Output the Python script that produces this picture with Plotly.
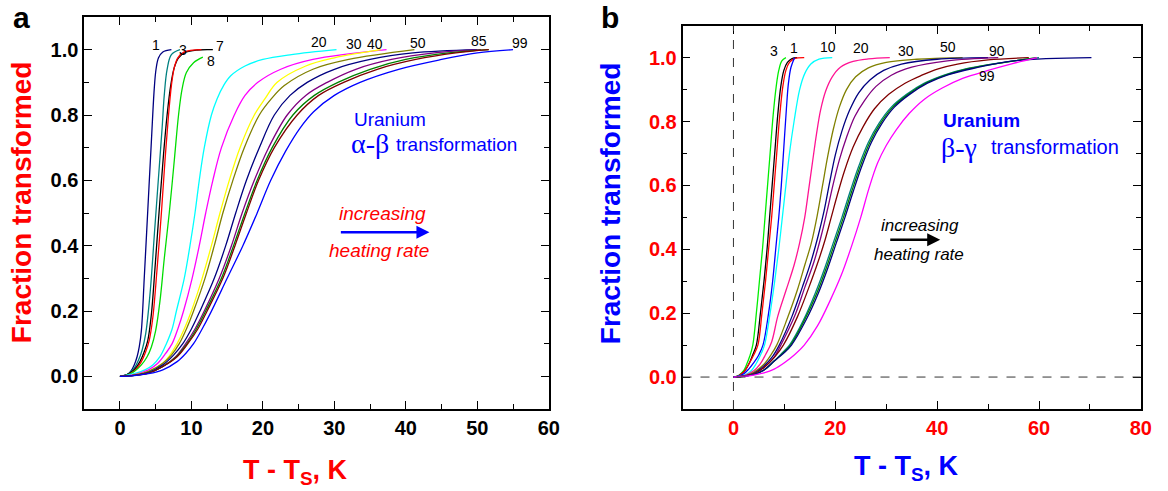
import plotly.graph_objects as go

# ---------------- Panel a : alpha-beta ----------------
a_colors = ["#000080", "#008080", "#000000", "#FF0000", "#00DD00", "#00FFFF", "#FF00FF",
            "#FFFF00", "#808000", "#000080", "#800080", "#008000", "#800000", "#0000FF"]
a_T = [
    [0, 1, 1.5, 2, 2.4, 2.7, 3.0, 3.4, 3.9, 4.4, 4.8, 5.05, 5.4, 6.0, 7.2],
    [0, 1, 2, 2.6, 3.1, 3.6, 4.2, 4.9, 5.4, 5.9, 6.2, 6.6, 7.2, 8.4],
    [0, 1, 2, 2.8, 3.4, 3.9, 4.4, 4.9, 5.5, 6.1, 6.6, 7.1, 7.6, 8.2, 9.2, 10.8, 13.0],
    [0, 1, 2, 3, 3.6, 4.1, 4.6, 5.2, 5.8, 6.3, 6.8, 7.2, 7.6, 8.1, 9.0, 11.4],
    [0, 1, 2, 3, 3.8, 4.4, 5.0, 5.6, 6.2, 6.9, 7.6, 8.2, 8.7, 9.3, 10.3, 11.6],
    [0, 2, 3.5, 4.6, 5.6, 6.5, 7.3, 7.9, 9.0, 9.8, 10.5, 11.1, 11.8, 12.8, 13.6, 14.5, 15.5, 17.5, 20, 24, 30.3],
    [0, 2, 4, 5.3, 6.4, 7.3, 8.1, 8.9, 10.1, 11.1, 12.0, 13.0, 14.2, 16.0, 17.5, 19.3, 22.5, 27, 37.3],
    [0, 2, 4, 6, 7.0, 8.0, 9.0, 10.0, 11.5, 12.8, 14.0, 15.3, 16.8, 18.8, 20.3, 22.0, 26, 30, 36.5],
    [0, 2, 4, 6, 7.2, 8.3, 9.3, 10.3, 11.9, 13.2, 14.4, 15.8, 17.4, 19.5, 21.2, 23.0, 27, 32, 41.2],
    [0, 2, 4, 6, 7.5, 8.8, 10.0, 11.2, 13.2, 14.8, 16.2, 17.7, 19.5, 21.6, 23.8, 26.2, 30, 35, 41, 50],
    [0, 2, 4, 6, 7.8, 9.2, 10.5, 11.8, 13.9, 15.6, 17.1, 18.8, 20.8, 23.4, 26, 29.0, 33, 38, 44, 50.5],
    [0, 2, 4, 6, 7.9, 9.4, 10.7, 12.0, 14.2, 15.9, 17.5, 19.2, 21.3, 24.2, 27.2, 30.5, 35, 40, 46, 51.6],
    [0, 2, 4, 6, 8.0, 9.5, 10.9, 12.2, 14.4, 16.1, 17.7, 19.4, 21.6, 24.8, 27.8, 31.3, 36, 41.4, 47, 51.6],
    [0, 2, 4, 6, 8, 9.2, 10.3, 11.5, 12.7, 15.0, 17.2, 19.2, 21.1, 23.2, 25.2, 27.1, 30, 33.6, 39, 45, 50, 55],
]
a_F = [
    [0, 0.005, 0.015, 0.035, 0.06, 0.09, 0.14, 0.30, 0.51, 0.72, 0.88, 0.94, 0.975, 0.993, 1.0],
    [0, 0.005, 0.025, 0.05, 0.08, 0.13, 0.25, 0.46, 0.61, 0.76, 0.86, 0.94, 0.985, 1.0],
    [0, 0.005, 0.02, 0.045, 0.075, 0.11, 0.19, 0.33, 0.51, 0.68, 0.80, 0.89, 0.945, 0.975, 0.992, 0.999, 1.0],
    [0, 0.004, 0.016, 0.045, 0.075, 0.11, 0.18, 0.33, 0.50, 0.66, 0.80, 0.89, 0.945, 0.975, 0.993, 1.0],
    [0, 0.004, 0.015, 0.035, 0.06, 0.09, 0.14, 0.23, 0.36, 0.50, 0.66, 0.80, 0.88, 0.93, 0.96, 0.977],
    [0, 0.008, 0.02, 0.035, 0.06, 0.10, 0.145, 0.20, 0.30, 0.40, 0.50, 0.60, 0.70, 0.80, 0.85, 0.89, 0.92, 0.95, 0.97, 0.985, 1.0],
    [0, 0.005, 0.02, 0.04, 0.07, 0.10, 0.145, 0.20, 0.30, 0.40, 0.50, 0.60, 0.70, 0.80, 0.86, 0.90, 0.94, 0.97, 1.0],
    [0, 0.004, 0.015, 0.04, 0.065, 0.10, 0.145, 0.20, 0.30, 0.40, 0.50, 0.60, 0.70, 0.80, 0.85, 0.90, 0.95, 0.975, 1.0],
    [0, 0.004, 0.015, 0.04, 0.065, 0.10, 0.145, 0.20, 0.30, 0.40, 0.50, 0.60, 0.70, 0.80, 0.85, 0.89, 0.94, 0.97, 1.0],
    [0, 0.003, 0.012, 0.035, 0.065, 0.10, 0.145, 0.20, 0.30, 0.40, 0.50, 0.60, 0.70, 0.80, 0.86, 0.90, 0.94, 0.97, 0.99, 1.0],
    [0, 0.003, 0.01, 0.03, 0.06, 0.10, 0.145, 0.20, 0.30, 0.40, 0.50, 0.60, 0.70, 0.80, 0.86, 0.90, 0.94, 0.97, 0.99, 1.0],
    [0, 0.003, 0.01, 0.03, 0.06, 0.10, 0.145, 0.20, 0.30, 0.40, 0.50, 0.60, 0.70, 0.80, 0.86, 0.90, 0.94, 0.97, 0.99, 1.0],
    [0, 0.003, 0.01, 0.03, 0.06, 0.10, 0.145, 0.20, 0.30, 0.40, 0.50, 0.60, 0.70, 0.80, 0.86, 0.90, 0.94, 0.97, 0.99, 1.0],
    [0, 0.002, 0.008, 0.02, 0.045, 0.07, 0.10, 0.145, 0.195, 0.30, 0.40, 0.50, 0.60, 0.69, 0.76, 0.81, 0.86, 0.90, 0.94, 0.97, 0.99, 1.0],
]
a_labels = ["1", "3", "7", "8", "20", "30", "40", "50", "85", "99"]
a_label_x = [5.0, 8.8, 14.0, 12.7, 27.9, 32.7, 35.7, 41.7, 50.2, 56.0]
a_label_y = [1.015, 1.0, 1.01, 0.964, 1.023, 1.017, 1.017, 1.02, 1.028, 1.02]

# ---------------- Panel b : beta-gamma ----------------
b_colors = ["#00EE00", "#000000", "#FF0000", "#0000FF", "#00FFFF", "#FF1493", "#808000",
            "#000080", "#800080", "#800000", "#008080", "#008000", "#000080", "#FF00FF"]
b_T = [
    [0, 1, 2, 2.6, 3.2, 3.8, 4.5, 5.1, 5.7, 6.2, 6.7, 7.2, 7.8, 8.4, 8.9, 9.5, 10.3],
    [0, 1, 2, 3, 3.8, 4.5, 5.3, 6.0, 6.6, 7.1, 7.6, 8.1, 8.7, 9.3, 9.9, 10.6, 11.5, 12.5],
    [0, 1, 2, 3, 4.0, 4.8, 5.6, 6.3, 6.9, 7.5, 8.0, 8.5, 9.1, 9.7, 10.3, 11.0, 12.0, 13.9],
    [0, 1, 2, 3, 4, 5, 5.8, 6.9, 7.7, 8.3, 8.9, 9.4, 9.9, 10.4, 10.8, 11.3, 12.0],
    [0, 2, 3.5, 4.4, 5.2, 6.1, 7.2, 8.1, 8.9, 9.6, 10.3, 11.0, 11.9, 13.0, 14.0, 15.2, 16.8, 19.4],
    [0, 2, 4, 5.2, 6.3, 7.5, 8.7, 10.3, 11.9, 13.0, 14.0, 14.8, 15.5, 16.3, 17.1, 18.1, 19.4, 21, 23.5, 26.5, 30.7],
    [0, 2, 4, 6, 7.4, 8.5, 10.5, 12.5, 14.0, 15.3, 16.5, 17.5, 18.5, 19.6, 20.8, 22.2, 24, 26.5, 30, 36, 45],
    [0, 2, 4, 6, 7.7, 9, 11.5, 13.5, 15.2, 16.6, 17.8, 18.9, 20.0, 21.3, 22.8, 24.6, 26.8, 29.5, 33, 40, 50],
    [0, 2, 4, 6, 7.9, 9.3, 12.0, 14.0, 15.8, 17.2, 18.4, 19.6, 20.8, 22.2, 23.8, 25.7, 28, 31, 35, 42, 52],
    [0, 2, 4, 6, 8.2, 9.8, 12.6, 14.8, 16.6, 18.0, 19.2, 20.4, 21.8, 23.5, 25.5, 27.7, 30.5, 33.7, 37, 40.2, 44, 50, 58],
    [0, 2, 4, 6, 8, 9.5, 11.0, 13.8, 16.0, 17.9, 19.6, 21.3, 22.9, 24.6, 26.5, 28.6, 31, 34, 37.5, 41.5, 46, 52, 60],
    [0, 2, 4, 6, 8, 9.7, 11.2, 14.0, 16.3, 18.2, 19.9, 21.6, 23.2, 24.9, 26.8, 28.9, 31.3, 34.3, 37.8, 41.8, 46.3, 52.3, 59.6],
    [0, 2, 4, 6, 8, 9.9, 11.4, 14.3, 16.6, 18.5, 20.2, 21.9, 23.5, 25.2, 27.1, 29.2, 31.6, 34.6, 38.1, 42.1, 47, 55, 70.3],
    [0, 2, 4, 6, 8, 10, 12, 13.9, 16.5, 19, 21.2, 23.2, 25.0, 26.6, 28.3, 30, 32, 34.5, 37.5, 41, 45, 50, 55, 59.6],
]
b_F = [
    [0, 0.005, 0.02, 0.04, 0.065, 0.10, 0.20, 0.30, 0.40, 0.50, 0.60, 0.70, 0.82, 0.91, 0.96, 0.99, 1.0],
    [0, 0.004, 0.015, 0.04, 0.07, 0.10, 0.20, 0.30, 0.40, 0.50, 0.60, 0.70, 0.82, 0.91, 0.96, 0.985, 0.997, 1.0],
    [0, 0.004, 0.015, 0.04, 0.07, 0.10, 0.20, 0.30, 0.40, 0.50, 0.60, 0.70, 0.82, 0.91, 0.96, 0.985, 0.997, 1.0],
    [0, 0.003, 0.01, 0.025, 0.045, 0.07, 0.10, 0.20, 0.30, 0.40, 0.50, 0.60, 0.72, 0.84, 0.92, 0.97, 1.0],
    [0, 0.005, 0.02, 0.04, 0.065, 0.10, 0.20, 0.30, 0.40, 0.50, 0.60, 0.70, 0.80, 0.90, 0.95, 0.98, 0.995, 1.0],
    [0, 0.004, 0.02, 0.04, 0.07, 0.11, 0.19, 0.27, 0.35, 0.42, 0.50, 0.59, 0.67, 0.76, 0.835, 0.895, 0.94, 0.97, 0.988, 0.996, 1.0],
    [0, 0.003, 0.015, 0.04, 0.07, 0.10, 0.18, 0.27, 0.35, 0.42, 0.51, 0.60, 0.69, 0.775, 0.845, 0.90, 0.94, 0.968, 0.985, 0.995, 1.0],
    [0, 0.003, 0.012, 0.035, 0.065, 0.10, 0.19, 0.28, 0.36, 0.44, 0.52, 0.61, 0.695, 0.77, 0.835, 0.89, 0.93, 0.96, 0.98, 0.995, 1.0],
    [0, 0.003, 0.01, 0.03, 0.06, 0.10, 0.19, 0.28, 0.36, 0.44, 0.52, 0.605, 0.68, 0.75, 0.815, 0.865, 0.91, 0.945, 0.97, 0.99, 1.0],
    [0, 0.003, 0.01, 0.03, 0.065, 0.10, 0.19, 0.28, 0.36, 0.43, 0.50, 0.57, 0.645, 0.72, 0.785, 0.84, 0.885, 0.92, 0.945, 0.965, 0.98, 0.993, 1.0],
    [0, 0.002, 0.008, 0.022, 0.05, 0.075, 0.10, 0.18, 0.26, 0.34, 0.42, 0.50, 0.58, 0.66, 0.735, 0.795, 0.845, 0.885, 0.92, 0.946, 0.966, 0.983, 1.0],
    [0, 0.002, 0.008, 0.022, 0.05, 0.075, 0.10, 0.18, 0.26, 0.34, 0.42, 0.50, 0.58, 0.66, 0.735, 0.795, 0.845, 0.885, 0.92, 0.946, 0.966, 0.983, 1.0],
    [0, 0.002, 0.008, 0.022, 0.05, 0.075, 0.10, 0.18, 0.26, 0.34, 0.42, 0.50, 0.58, 0.66, 0.735, 0.795, 0.845, 0.885, 0.92, 0.946, 0.966, 0.99, 1.0],
    [0, 0.002, 0.006, 0.013, 0.025, 0.045, 0.07, 0.10, 0.16, 0.24, 0.32, 0.41, 0.50, 0.59, 0.67, 0.725, 0.775, 0.825, 0.87, 0.905, 0.935, 0.96, 0.982, 1.0],
]
b_labels = ["3", "1", "10", "20", "30", "50", "90", "99"]
b_label_x = [7.9, 11.8, 18.5, 25.1, 33.9, 42.1, 51.8, 49.7]
b_label_y = [1.022, 1.029, 1.033, 1.029, 1.022, 1.033, 1.022, 0.943]

W, H = 1168, 491
FONT = "Arial, Liberation Sans, Helvetica, sans-serif"
SERIF = "Times New Roman, Liberation Serif, DejaVu Serif, serif"

fig = go.Figure()
for T, F, c in zip(a_T, a_F, a_colors):
    fig.add_trace(go.Scatter(x=T, y=F, mode="lines", xaxis="x", yaxis="y",
                             line=dict(color=c, width=1.3, shape="spline", smoothing=1.0),
                             showlegend=False, hoverinfo="skip"))
for T, F, c in zip(b_T, b_F, b_colors):
    fig.add_trace(go.Scatter(x=T, y=F, mode="lines", xaxis="x2", yaxis="y2",
                             line=dict(color=c, width=1.3, shape="spline", smoothing=1.0),
                             showlegend=False, hoverinfo="skip"))

def px_x(p):
    return p / W

def px_y(p):
    return (H - p) / H

def axis_common(color):
    return dict(showline=True, linecolor="black", linewidth=1.6, mirror="allticks",
                ticks="inside", ticklen=8, tickwidth=1.3, tickcolor="black",
                showgrid=False, zeroline=False,
                tickfont=dict(family=FONT, size=20, color=color, weight="bold"),
                minor=dict(ticks="inside", ticklen=5, tickwidth=1.1, tickcolor="black", showgrid=False))

xa = axis_common("black"); xa.update(domain=[px_x(85), px_x(554)], range=[-5, 60], tick0=0, dtick=10, anchor="y")
xa["minor"].update(dtick=5, tick0=0)
ya = axis_common("black"); ya.update(domain=[px_y(409), px_y(17)], range=[-0.1, 1.1], tick0=0, dtick=0.2,
                                      tickformat=".1f", anchor="x")
ya["minor"].update(dtick=0.1, tick0=0)
xb = axis_common("red"); xb.update(domain=[px_x(689), px_x(1151.7)], range=[-10, 80], tick0=0, dtick=20, anchor="y2")
xb["minor"].update(dtick=10, tick0=0)
yb = axis_common("red"); yb.update(domain=[px_y(409), px_y(25.7)], range=[-0.1, 1.1], tick0=0, dtick=0.2,
                                    tickformat=".1f", anchor="x2")
yb["minor"].update(dtick=0.1, tick0=0)

annotations = []
for t, x, y in zip(a_labels, a_label_x, a_label_y):
    annotations.append(dict(x=x, y=y, xref="x", yref="y", text=t, showarrow=False,
                            font=dict(family=FONT, size=14, color="black")))
for t, x, y in zip(b_labels, b_label_x, b_label_y):
    annotations.append(dict(x=x, y=y, xref="x2", yref="y2", text=t, showarrow=False,
                            font=dict(family=FONT, size=14, color="black")))

# panel a texts
annotations += [
    dict(x=32.4, y=0.787, xref="x", yref="y", text="Uranium", showarrow=False, xanchor="left",
         font=dict(family=FONT, size=19, color="#0000FF")),
    dict(x=32.0, y=0.714, xref="x", yref="y", text="α-β", showarrow=False, xanchor="left",
         font=dict(family=SERIF, size=28, color="#0000FF")),
    dict(x=38.3, y=0.711, xref="x", yref="y", text="transformation", showarrow=False, xanchor="left",
         font=dict(family=FONT, size=19, color="#0000FF")),
    dict(x=36.8, y=0.499, xref="x", yref="y", text="<i>increasing</i>", showarrow=False,
         font=dict(family=FONT, size=19, color="#FF0000")),
    dict(x=36.3, y=0.386, xref="x", yref="y", text="<i>heating rate</i>", showarrow=False,
         font=dict(family=FONT, size=19, color="#FF0000")),
    dict(x=43.3, y=0.441, ax=30.7, ay=0.441, xref="x", yref="y", axref="x", ayref="y", text="",
         showarrow=True, arrowhead=2, arrowsize=1, arrowwidth=2.6, arrowcolor="#0000FF"),
]
# panel b texts
annotations += [
    dict(x=40.8, y=0.802, xref="x2", yref="y2", text="<b>Uranium</b>", showarrow=False, xanchor="left",
         font=dict(family=FONT, size=19, color="#0000FF")),
    dict(x=40.4, y=0.719, xref="x2", yref="y2", text="β-γ", showarrow=False, xanchor="left",
         font=dict(family=SERIF, size=28, color="#0000FF")),
    dict(x=50.1, y=0.721, xref="x2", yref="y2", text="transformation", showarrow=False, xanchor="left",
         font=dict(family=FONT, size=20, color="#0000FF")),
    dict(x=36.7, y=0.474, xref="x2", yref="y2", text="<i>increasing</i>", showarrow=False,
         font=dict(family=FONT, size=17, color="black")),
    dict(x=36.5, y=0.383, xref="x2", yref="y2", text="<i>heating rate</i>", showarrow=False,
         font=dict(family=FONT, size=17, color="black")),
    dict(x=40.6, y=0.430, ax=30.5, ay=0.430, xref="x2", yref="y2", axref="x2", ayref="y2", text="",
         showarrow=True, arrowhead=2, arrowsize=1, arrowwidth=2.6, arrowcolor="black"),
]
# axis titles and panel letters
annotations += [
    dict(x=px_x(21.7), y=px_y(201.7), xref="paper", yref="paper", text="<b>Fraction transformed</b>",
         textangle=-90, showarrow=False, xanchor="center", yanchor="middle",
         font=dict(family=FONT, size=28, color="#FF0000")),
    dict(x=px_x(298.5), y=px_y(472), xref="paper", yref="paper", text="<b>T - T<sub>S</sub>, K</b>",
         showarrow=False, xanchor="center", yanchor="middle",
         font=dict(family=FONT, size=27, color="#FF0000")),
    dict(x=px_x(616), y=px_y(203), xref="paper", yref="paper", text="<b>Fraction transformed</b>",
         textangle=-90, showarrow=False, xanchor="center", yanchor="middle",
         font=dict(family=FONT, size=28, color="#0000FF")),
    dict(x=px_x(915), y=px_y(468), xref="paper", yref="paper", text="<b>T - T<sub>S</sub>, K</b>",
         showarrow=False, xanchor="center", yanchor="middle",
         font=dict(family=FONT, size=27, color="#0000FF")),
    dict(x=px_x(21.5), y=1.0, xref="paper", yref="paper", text="<b>a</b>",
         showarrow=False, xanchor="center", yanchor="top", borderpad=0,
         font=dict(family=FONT, size=30, color="black")),
    dict(x=px_x(616), y=1.0, xref="paper", yref="paper", text="<b>b</b>",
         showarrow=False, xanchor="center", yanchor="top", borderpad=0,
         font=dict(family=FONT, size=30, color="black")),
]

shapes = [
    dict(type="line", xref="x2", yref="y2", x0=0, x1=0, y0=-0.1, y1=1.1,
         line=dict(color="#333333", width=1, dash="dash")),
    dict(type="line", xref="x2", yref="y2", x0=-10, x1=80, y0=0, y1=0,
         line=dict(color="#333333", width=1, dash="dash")),
]

fig.update_layout(width=W, height=H, margin=dict(l=0, r=0, t=0, b=0),
                  paper_bgcolor="white", plot_bgcolor="white",
                  xaxis=xa, yaxis=ya, xaxis2=xb, yaxis2=yb,
                  annotations=annotations, shapes=shapes,
                  font=dict(family=FONT))
fig.write_html("out.html")
